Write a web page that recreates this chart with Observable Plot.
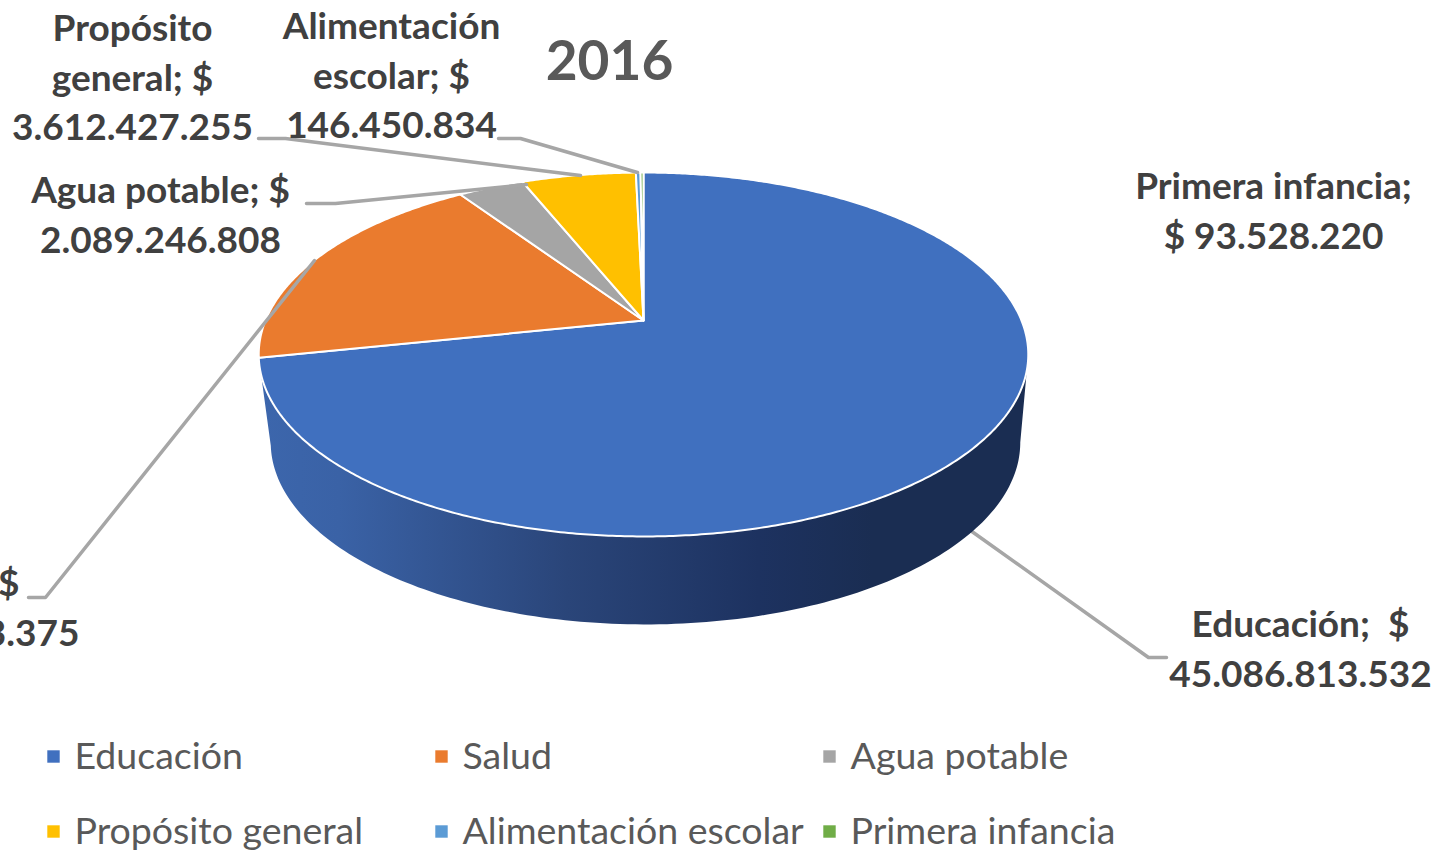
<!DOCTYPE html>
<html><head><meta charset="utf-8">
<script src="https://cdn.jsdelivr.net/npm/d3@7"></script>
<script src="https://cdn.jsdelivr.net/npm/@observablehq/plot@0.6"></script>
<style>html,body{margin:0;padding:0;background:#fff;overflow:hidden}svg{display:block}</style>
</head><body><div id="chart"></div>
<script>
const categories = ["Educación","Salud","Agua potable","Propósito general","Alimentación escolar","Primera infancia"];
const values = [45086813532,11820003375,2089246808,3612427255,146450834,93528220];
const colors = ["#4070BF","#EA7B2E","#A5A5A5","#FFC000","#5B9BD5","#70AD47"];
const titleText = "2016";

// label wrapping: lines above the value. The Salud label runs off the page in the reference,
// so only the part that is on the page is written.
const labelHeads = [["Educación;  $"],["$"],["Agua potable; $"],["Propósito","general; $"],["Alimentación","escolar; $"],["Primera infancia;"]];
const labelPrefix = ["","","","","","$ "];
const visibleTail = [null,5,null,null,null,null];

// layout, in pixels of the 1435x850 page
const W = 1435, H = 850;
const labelPos = [
 {x:1300,y:625,anchor:"middle"},{x:19,y:584,anchor:"end",x2:79},{x:160,y:191,anchor:"middle"},
 {x:132,y:29,anchor:"middle"},{x:391,y:27,anchor:"middle"},{x:1273,y:187,anchor:"middle"}];
const lineStep = 49.5;
const leaders = [
 [[970,530],[1148,657],[1166,657]],
 [[314,260],[45,597],[28,597]],
 [[526,184],[335,203],[306,203]],
 [[580,175],[285,138],[258,138]],
 [[637,172],[520,138],[498,138]]];
const legendPos = [[53,756],[441,756],[829,756],[53,831],[441,831],[829,831]];

// perspective disc -> page: top face and base of the cylinder
const k = 0.1868, a = 378, b = 175.6;
const topFace = {cx:643, cy:320}, baseFace = {cx:645, cy:408, s:0.974};
function project(deg, f){
  const t = deg*Math.PI/180, u = Math.sin(t), v = Math.cos(t), w = 1+k*v, s = f.s||1;
  return {x:f.cx + s*a*u/w, y:f.cy - b*v/w};
}
const total = d3.sum(values);
const slices = [];
let acc = 0;
const spans = categories.map((name,i)=>{const s=acc; acc+=values[i]/total*360; return {name,start:s,end:acc};});
for (const sp of spans){
  const n = Math.max(2, Math.ceil((sp.end-sp.start)*2));
  slices.push({name:sp.name,x:topFace.cx,y:topFace.cy});
  for(let j=0;j<=n;j++){ const p=project(sp.start+(sp.end-sp.start)*j/n,topFace); slices.push({name:sp.name,x:p.x,y:p.y}); }
  slices.push({name:sp.name,x:topFace.cx,y:topFace.cy});
}
// wall of the first slice, front side only
const tangent = Math.atan2(Math.sqrt(1-k*k),-k)*180/Math.PI;
const wStart = tangent, wEnd = Math.min(spans[0].end,360-tangent), wall=[];
for(let d=wStart;d<=wEnd;d+=1){wall.push(project(d,topFace));}
wall.push(project(wEnd,topFace));
wall.push(project(wEnd,baseFace));
for(let d=wEnd;d>=wStart;d-=1){wall.push(project(d,baseFace));}
wall.push(project(wStart,baseFace));

const esNum = v => d3.format(",")(v).replace(/,/g,".");
const labelRows = [];
categories.forEach((c,i)=>{
  const pos = labelPos[i], heads = labelHeads[i];
  heads.forEach((t,j)=>labelRows.push({t,x:pos.x,y:pos.y+j*lineStep,anchor:pos.anchor}));
  const full = esNum(values[i]);
  const shown = visibleTail[i] ? full.slice(-visibleTail[i]) : full;
  labelRows.push({t:labelPrefix[i]+shown,x:pos.x2??pos.x,y:pos.y+heads.length*lineStep,anchor:pos.anchor});
});
const leaderRows = leaders.flatMap((l,i)=>l.map(p=>({i,x:p[0],y:p[1]})));
const legendRows = categories.map((name,i)=>({name,x:legendPos[i][0],y:legendPos[i][1]}));

const defs = () => {
  const d = d3.create("svg:defs");
  const g = d.append("linearGradient").attr("id","wallGrad").attr("gradientUnits","userSpaceOnUse")
    .attr("x1",262).attr("x2",1025).attr("y1",0).attr("y2",0);
  [[0,"#3c66ac"],[0.1,"#3a62a6"],[0.4,"#2a4579"],[0.65,"#1d3260"],[0.8,"#1a2d52"],[1,"#1a2d52"]]
    .forEach(([o,c])=>g.append("stop").attr("offset",o).attr("stop-color",c));
  return d.node();
};

const font = "Lato, Carlito, sans-serif";
const chart = Plot.plot({
  width:W,height:H,margin:0,
  x:{domain:[0,W],range:[0,W],axis:null},
  y:{domain:[0,H],range:[0,H],axis:null},
  color:{domain:categories,range:colors},
  style:{background:"#fff",fontFamily:font},
  marks:[
    defs,
    Plot.line(leaderRows.filter(d=>d.i===0),{x:"x",y:"y",z:"i",stroke:"#a6a6a6",strokeWidth:3.5}),
    Plot.line(wall,{x:"x",y:"y",fill:"url(#wallGrad)",stroke:"none"}),
    Plot.line(slices,{x:"x",y:"y",z:"name",fill:"name",stroke:"#fff",strokeWidth:2,strokeLinejoin:"round"}),
    Plot.line(leaderRows.filter(d=>d.i>0),{x:"x",y:"y",z:"i",stroke:"#a6a6a6",strokeWidth:3.5}),
    Plot.text([titleText],{x:()=>609,y:()=>62,text:d=>d,fontSize:55,fontWeight:700,fill:"#595959"}),
    ...["middle","end"].map(anchor=>Plot.text(labelRows.filter(d=>d.anchor===anchor),{x:"x",y:"y",text:"t",textAnchor:anchor,fontSize:37,fontWeight:700,fill:"#404040"})),
    Plot.dot(legendRows,{x:"x",y:"y",symbol:"square",r:7,fill:"name",stroke:"none"}),
    Plot.text(legendRows,{x:d=>d.x+21,y:"y",text:"name",textAnchor:"start",fontSize:37.5,fill:"#595959"})
  ]
});
document.getElementById("chart").append(chart);
</script></body></html>
